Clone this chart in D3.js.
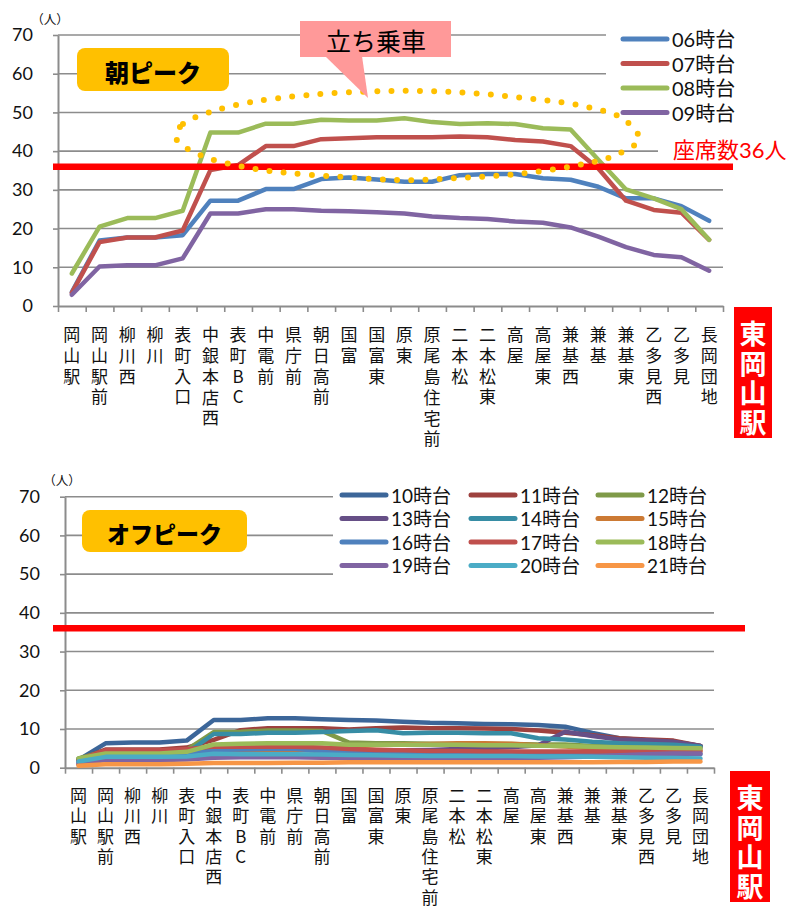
<!DOCTYPE html>
<html><head><meta charset="utf-8">
<script src="https://cdn.jsdelivr.net/npm/d3@7"></script>
<style>body{margin:0;background:#fff}svg{display:block}
.vt{writing-mode:vertical-rl;text-orientation:upright;}
</style>
</head><body><svg id="c" width="795" height="909"></svg>
<script>
// ---------------- data ----------------
const stops = ["岡山駅","岡山駅前","柳川西","柳川","表町入口","中銀本店西","表町BC","中電前","県庁前","朝日高前","国富","国富東","原東","原尾島住宅前","二本松","二本松東","高屋","高屋東","兼基西","兼基","兼基東","乙多見西","乙多見","長岡団地"];
const terminal = "東岡山駅";
const yTicks = [0,10,20,30,40,50,60,70];
const seatCapacity = 36;
const seatLabel = "座席数36人";
const unitLabel = "（人）";

const peakNames = ["06時台","07時台","08時台","09時台"];
const h06 = [3.6,16.9,17.7,17.7,18.3,27.2,27.2,30.2,30.2,32.8,33.2,32.7,32.1,32.1,33.8,34.1,34.1,33.0,32.6,30.8,27.8,27.8,25.8,22.0];
const h07 = [3.4,16.5,17.7,17.7,19.5,35.1,36.4,41.3,41.3,43.1,43.3,43.6,43.6,43.6,43.8,43.6,42.9,42.5,41.3,35.5,27.2,24.8,24.1,17.1];
const h08 = [8.4,20.5,22.7,22.7,24.6,44.8,44.8,47.1,47.1,48.1,47.9,47.9,48.5,47.5,47.0,47.2,47.0,45.9,45.6,37.8,30.1,27.8,25.0,17.1];
const h09 = [2.9,10.2,10.5,10.5,12.3,23.9,23.9,25.0,25.0,24.6,24.5,24.2,23.9,23.1,22.7,22.5,21.8,21.5,20.3,17.9,15.2,13.2,12.6,9.1];

const offNames = ["10時台","11時台","12時台","13時台","14時台","15時台","16時台","17時台","18時台","19時台","20時台","21時台"];
const h10 = [2.0,6.3,6.5,6.5,7.0,12.3,12.3,12.8,12.8,12.5,12.3,12.2,11.9,11.6,11.5,11.3,11.2,11.0,10.6,9.0,7.6,7.1,6.7,5.6];
const h11 = [2.0,4.7,4.7,4.7,5.2,7.2,9.7,10.2,10.2,10.2,9.9,10.2,10.4,10.2,10.2,10.1,10.0,9.6,9.0,8.4,7.6,7.3,7.0,5.6];
const h12 = [2.4,4.3,4.3,4.3,4.6,9.2,9.3,9.6,9.6,9.5,6.5,6.3,6.3,6.2,6.1,6.1,6.1,6.0,6.0,5.6,5.5,5.4,5.4,5.2];
const h13 = [1.5,3.5,3.5,3.5,3.8,4.8,4.8,4.9,4.9,4.2,4.0,4.3,4.5,4.6,4.8,5.0,5.3,5.8,9.3,8.2,7.3,7.1,6.7,5.6];
const h14 = [2.2,3.5,3.5,3.5,3.8,8.7,8.7,9.0,9.0,9.2,9.5,9.7,8.9,9.0,9.0,8.9,8.9,7.6,7.3,6.7,6.3,6.1,5.9,5.4];
const h15 = [0.8,3.0,3.0,3.0,3.3,4.3,4.3,4.5,4.5,4.6,5.5,5.8,6.0,6.1,6.3,6.3,6.2,5.8,5.5,5.0,4.8,4.6,4.5,4.2];
const h16 = [1.5,3.0,3.0,3.0,3.2,4.6,4.7,4.8,4.8,4.4,3.9,3.9,3.9,3.8,3.8,3.8,3.8,3.7,3.7,3.6,3.6,3.5,3.5,3.5];
const h17 = [2.0,4.5,4.5,4.5,4.8,5.5,5.4,5.4,5.4,5.2,4.8,4.6,4.5,4.3,4.3,4.2,4.2,4.2,4.2,4.2,4.2,4.3,4.3,4.5];
const h18 = [2.4,3.7,3.7,3.7,4.1,6.0,6.2,6.3,6.3,6.3,5.9,5.9,5.9,5.9,5.9,5.8,5.8,5.7,5.6,5.4,5.3,5.2,5.1,5.0];
const h19 = [1.0,2.0,2.0,2.0,2.1,2.6,2.7,2.7,2.7,2.6,2.5,2.4,2.4,2.4,2.4,2.4,2.5,2.6,2.7,2.9,3.2,3.5,3.7,3.7];
const h20 = [1.6,2.8,2.8,2.8,2.9,3.6,3.5,3.5,3.5,3.4,3.3,3.2,3.1,3.0,3.0,3.0,3.0,2.9,2.9,2.8,2.7,2.6,2.5,2.4];
const h21 = [0.5,0.9,0.9,0.9,1.0,1.2,1.2,1.2,1.3,1.3,1.4,1.4,1.4,1.4,1.4,1.4,1.4,1.4,1.4,1.4,1.5,1.5,1.6,1.6];

// annotation loop ("立ち乗車") in chart coordinates: stop index, value
const annoIdx = [3.76,4.01,4.99,6.50,8.56,11.12,13.76,16.36,18.42,19.90,20.47,19.64,18.13,16.07,14.01,11.92,9.82,7.77,6.21,4.70,3.83];
const annoVal = [44.2,47.0,50.1,52.7,54.5,55.5,55.3,53.7,51.7,48.3,43.1,39.0,36.2,34.1,33.1,32.5,33.3,34.4,35.9,38.8,42.4];
const annoText = "立ち乗車";
const peakTitle = "朝ピーク";
const offTitle = "オフピーク";

// ---------------- styles ----------------
const peakColors = ["#4F81BD","#C0504D","#9BBB59","#8064A2"];
const offColors = ["#3C6699","#9E413E","#7F9A48","#664F86","#378DA5","#CC7A34","#4F81BD","#C0504D","#9BBB59","#8064A2","#4BACC6","#F79646"];
const NUMFONT = "Lato, 'Noto Sans CJK JP', sans-serif";
const CJK = "'Noto Sans CJK JP', sans-serif";
const GRID = "#8c8c8c";

const svg = d3.select("#c");
svg.append("rect").attr("width",795).attr("height",909).attr("fill","#fff");

// vertical text (one text run, upright glyphs); y0 = centre of first glyph
function vText(g, str, cx, y0, step, size, attrs){
  const chars = Array.from(str);
  const t = g.append("text").attr("class","vt").attr("x",cx).attr("y",y0-size/2)
    .attr("font-size",size).attr("letter-spacing",step-size);
  Object.entries(attrs).forEach(([k,v])=>t.attr(k,v));
  t.append("tspan").text(chars.slice(0,-1).join(""));
  t.append("tspan").attr("letter-spacing",0).text(chars[chars.length-1]);
  return t;
}

function drawChart(cfg){
  const g = svg.append("g");
  const x = d3.scaleBand().domain(stops).range([cfg.x0,cfg.x1]).padding(0);
  const xi = d3.scaleLinear().domain([-0.5, stops.length-0.5]).range([cfg.x0,cfg.x1]);
  const xb = d3.scaleLinear().domain([0, stops.length]).range([cfg.x0,cfg.x1]);
  const y = d3.scaleLinear().domain([0,70]).range([cfg.yBot,cfg.yTop]);

  // gridlines
  g.append("g").selectAll("line").data(yTicks.filter(t=>t>0)).join("line")
    .attr("x1",cfg.x0).attr("x2",cfg.x1).attr("y1",d=>y(d)).attr("y2",d=>y(d))
    .attr("stroke",GRID).attr("stroke-width",1.6);

  // left axis
  const ax = g.append("g").attr("transform",`translate(${cfg.x0},0)`)
    .call(d3.axisLeft(y).tickValues(yTicks).tickSize(5).tickSizeOuter(0).tickPadding(20));
  ax.select(".domain").attr("stroke",GRID).attr("stroke-width",2);
  ax.selectAll(".tick line").attr("stroke",GRID).attr("stroke-width",1.6);
  ax.selectAll(".tick text").attr("font-family",NUMFONT).attr("font-size",18).attr("fill","#111");

  // bottom axis
  const bx = g.append("g").attr("transform",`translate(0,${cfg.yBot})`)
    .call(d3.axisBottom(xb).tickValues(d3.range(stops.length+1)).tickSize(6).tickSizeOuter(0).tickFormat(""));
  bx.select(".domain").attr("stroke",GRID).attr("stroke-width",2);
  bx.selectAll(".tick line").attr("stroke",GRID).attr("stroke-width",1.6);

  // unit label
  g.append("text").attr("x",cfg.unitX).attr("y",cfg.unitY).attr("text-anchor","middle")
    .attr("dominant-baseline","central").attr("font-family",CJK).attr("font-size",12.5).attr("fill","#111").text(unitLabel);

  // category labels (vertical)
  stops.forEach(s=>{
    vText(g, s, x(s)+x.bandwidth()/2, cfg.yBot+cfg.labOff, cfg.labStep, 17,
      {"font-family":CJK,"fill":"#111"});
  });

  // legend / label white backgrounds
  cfg.covers.forEach(c=>g.append("rect").attr("x",c[0]).attr("y",c[1]).attr("width",c[2]).attr("height",c[3]).attr("fill","#fff"));

  // series lines
  const line = d3.line().x((d,i)=>x(stops[i])+x.bandwidth()/2).y(d=>y(d)).curve(d3.curveLinear);
  cfg.series.forEach((arr,k)=>{
    g.append("path").attr("d",line(arr)).attr("fill","none").attr("stroke",cfg.colors[k])
      .attr("stroke-width",cfg.lw).attr("stroke-linejoin","round").attr("stroke-linecap","round");
  });

  // seat capacity line
  g.append("line").attr("x1",53).attr("x2",cfg.seatEnd).attr("y1",y(seatCapacity)).attr("y2",y(seatCapacity))
    .attr("stroke","#FF0000").attr("stroke-width",6.5);

  // legend
  cfg.names.forEach((n,k)=>{
    const col = k % cfg.legCols, row = Math.floor(k / cfg.legCols);
    const lx = cfg.legX[col], ly = cfg.legY0 + row*cfg.legDy;
    g.append("line").attr("x1",lx).attr("x2",lx+44).attr("y1",ly).attr("y2",ly)
      .attr("stroke",cfg.colors[k]).attr("stroke-width",5).attr("stroke-linecap","round");
    g.append("text").attr("x",lx+49).attr("y",ly).attr("dominant-baseline","central")
      .attr("font-family",NUMFONT).attr("font-size",cfg.legFont).attr("fill","#111").text(n);
  });

  // title badge
  g.append("rect").attr("x",cfg.badge[0]).attr("y",cfg.badge[1]).attr("width",cfg.badge[2]).attr("height",cfg.badge[3])
    .attr("rx",8).attr("fill","#FFC000");
  g.append("text").attr("x",cfg.badge[0]+cfg.badge[2]/2).attr("y",cfg.badge[1]+cfg.badge[3]/2+2)
    .attr("text-anchor","middle").attr("dominant-baseline","central").attr("font-family",CJK)
    .attr("font-weight",900).attr("font-size",cfg.badgeFont).attr("fill","#000").text(cfg.title);

  // terminal box
  const tb = cfg.term;
  g.append("rect").attr("x",tb[0]).attr("y",tb[1]).attr("width",tb[2]).attr("height",tb[3]).attr("fill","#FF0000");
  vText(g, terminal, tb[0]+tb[2]/2, tb[1]+27, 29.5, 27,
    {"font-family":CJK,"font-weight":700,"fill":"#fff"});
  return {x,xi,y,g};
}

// ---------------- top chart ----------------
const peakChart = drawChart({
  x0:58, x1:723, yTop:35, yBot:306, unitX:50, unitY:18, labOff:29, labStep:20.8,
  covers:[[606,22,189,104],[658,136,137,26]],
  series:[h06,h07,h08,h09], colors:peakColors, names:peakNames, lw:4.5,
  seatEnd:733, legCols:1, legX:[623], legY0:39, legDy:24.5, legFont:20,
  badge:[77,48,152,43], badgeFont:24, title:peakTitle,
  term:[734,307,38,131]
});
// seat label
peakChart.g.append("text").attr("x",673).attr("y",149).attr("dominant-baseline","central")
  .attr("font-family",NUMFONT).attr("font-size",22).attr("fill","#FF0000").text(seatLabel);

// dotted loop annotation
const loop = d3.line().x((d,i)=>peakChart.xi(annoIdx[i])).y(d=>peakChart.y(d)).curve(d3.curveCatmullRomClosed.alpha(0.5));
peakChart.g.append("path").attr("d",loop(annoVal)).attr("fill","none").attr("stroke","#FFC000")
  .attr("stroke-width",6).attr("stroke-linecap","round").attr("stroke-dasharray","0 14.2");

// callout
const co = peakChart.g.append("g");
co.append("path").attr("d","M325,56 L362,56 L368,98 Z").attr("fill","#FF9999");
co.append("rect").attr("x",300).attr("y",21).attr("width",151).attr("height",36).attr("fill","#FF9999");
co.append("text").attr("x",376).attr("y",40).attr("text-anchor","middle").attr("dominant-baseline","central")
  .attr("font-family",CJK).attr("font-size",25).attr("fill","#000").text(annoText);

// ---------------- bottom chart ----------------
const offChart = drawChart({
  x0:65, x1:714, yTop:496.7, yBot:767.7, unitX:62, unitY:479, labOff:28, labStep:20.3,
  covers:[[333,483,381,94]],
  series:[h10,h11,h12,h13,h14,h15,h16,h17,h18,h19,h20,h21], colors:offColors, names:offNames, lw:4.5,
  seatEnd:745, legCols:3, legX:[342,471,598], legY0:495, legDy:23.5, legFont:19,
  badge:[82,510,165,42], badgeFont:23, title:offTitle,
  term:[730,771,40,131]
});
</script></body></html>
